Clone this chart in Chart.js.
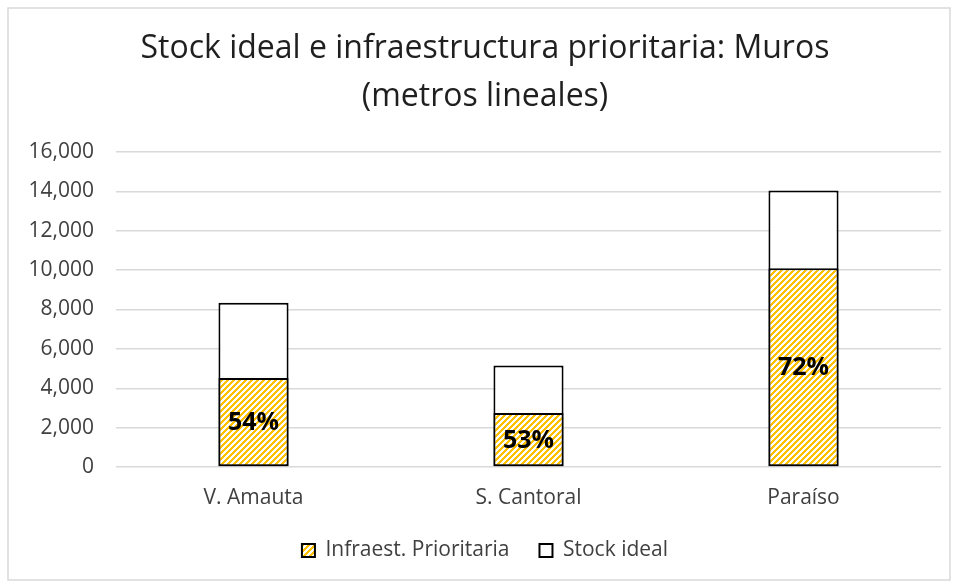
<!DOCTYPE html>
<html>
<head>
<meta charset="utf-8">
<title>Muros</title>
<script src="https://cdn.jsdelivr.net/npm/chart.js@4"></script>
<style>
	body { margin: 0; background: #ffffff; }
	canvas { display: block; }
</style>
</head>
<body>
<canvas id="murosChart" width="958" height="588"></canvas>
<script>
const categories = ['V. Amauta', 'S. Cantoral', 'Paraíso'];
const infraPrioritaria = [4520, 2740, 10100];
const stockIdeal = [8340, 5160, 14040];
const yTicks = [0, 2000, 4000, 6000, 8000, 10000, 12000, 14000, 16000];

const FONT = "'Open Sans', sans-serif";

// yellow upward-diagonal hatch used by the "Infraest. Prioritaria" bars
function makeHatch()
{
	const size = 6;
	const tile = document.createElement('canvas');
	tile.width = size;
	tile.height = size;
	const t = tile.getContext('2d');
	t.fillStyle = '#ffffff';
	t.fillRect(0, 0, size, size);
	t.fillStyle = '#ffc000';
	for (let y = 0; y < size; y++) {
		for (let x = 0; x < size; x++) {
			if ((x + y) % size < 3)
				t.fillRect(x, y, 1, 1);
		}
	}
	return t.createPattern(tile, 'repeat');
}

const ctx = document.getElementById('murosChart').getContext('2d');
const hatch = makeHatch();

// light grey frame round the whole chart
const framePlugin = {
	id: 'frame',
	beforeDraw(chart) {
		const c = chart.ctx;
		c.save();
		c.strokeStyle = '#d9d9d9';
		c.lineWidth = 1.5;
		c.strokeRect(8, 8, chart.width - 16, chart.height - 16);
		c.restore();
	}
};

// percentage of the ideal stock, written in the middle of each hatched bar
const percentPlugin = {
	id: 'percentLabels',
	afterDatasetsDraw(chart) {
		const meta = chart.getDatasetMeta(0);
		const c = chart.ctx;
		c.save();
		c.font = "bold 25px " + FONT;
		c.fillStyle = '#000000';
		c.textAlign = 'center';
		c.textBaseline = 'middle';
		meta.data.forEach((bar, i) => {
			const pct = Math.round(infraPrioritaria[i] / stockIdeal[i] * 100);
			c.fillText(pct + '%', bar.x, (bar.y + bar.base) / 2 + 1);
		});
		c.restore();
	}
};

new Chart(ctx, {
	type: 'bar',
	data: {
		labels: categories,
		datasets: [
			{
				label: 'Infraest. Prioritaria',
				data: infraPrioritaria,
				backgroundColor: hatch,
				borderColor: '#000000',
				borderWidth: 2,
				borderSkipped: false,
				barPercentage: 1,
				categoryPercentage: 0.255
			},
			{
				label: 'Stock ideal',
				data: stockIdeal,
				backgroundColor: '#ffffff',
				borderColor: '#000000',
				borderWidth: 2,
				borderSkipped: false,
				barPercentage: 1,
				categoryPercentage: 0.255
			}
		]
	},
	options: {
		responsive: false,
		animation: false,
		layout: {
			padding: { left: 29, right: 17, top: 0, bottom: 17 }
		},
		scales: {
			x: {
				stacked: true,
				grid: { display: false, drawTicks: false },
				border: { display: false },
				ticks: {
					color: '#404040',
					padding: 18,
					font: { family: FONT, size: 21 }
				},
				afterFit(scale) {
					scale.height = 43;
				}
			},
			y: {
				stacked: false,
				min: 0,
				max: 16000,
				afterBuildTicks(scale) {
					scale.ticks = yTicks.map(v => ({ value: v }));
				},
				grid: { color: '#d9d9d9', lineWidth: 1.5, drawTicks: false },
				border: { display: false },
				ticks: {
					color: '#404040',
					padding: 22,
					font: { family: FONT, size: 21 },
					callback: v => v.toLocaleString('en-US')
				},
				afterFit(scale) {
					scale.width = 87;
				}
			}
		},
		plugins: {
			title: {
				display: true,
				text: ['Stock ideal e infraestructura prioritaria: Muros', '(metros lineales)'],
				color: '#1f1f1f',
				font: { family: FONT, size: 32, weight: 'normal', lineHeight: 1.5 },
				padding: { top: 25, bottom: 31 }
			},
			legend: {
				position: 'bottom',
				labels: {
					color: '#404040',
					font: { family: FONT, size: 21 },
					boxWidth: 13,
					boxHeight: 13,
					padding: 30
				}
			},
			tooltip: { enabled: false }
		}
	},
	plugins: [framePlugin, percentPlugin]
});
</script>
</body>
</html>
